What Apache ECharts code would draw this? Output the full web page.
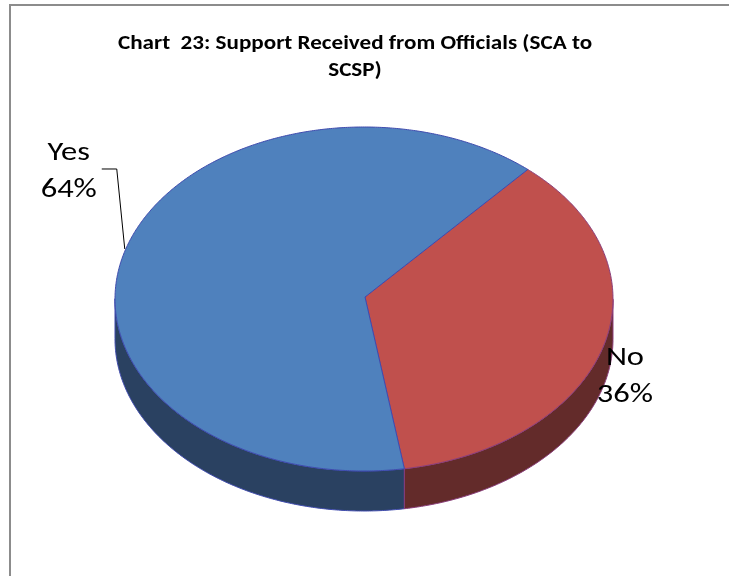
<!DOCTYPE html>
<html>
<head>
<meta charset="utf-8">
<script src="https://cdn.jsdelivr.net/npm/echarts@6/dist/echarts.min.js"></script>
<style>
  html, body { margin: 0; padding: 0; background: #ffffff; }
  #chart { width: 729px; height: 576px; }
</style>
</head>
<body>
<div id="chart"></div>
<script>
// Survey answers and their shares (percent)
const categories = ['Yes', 'No'];
const shares = [64, 36];

const titleText = 'Chart  23: Support Received from Officials (SCA to\nSCSP)';

// Tilted-disc geometry of the 3-D pie
const PIE = {
  apexX: 365, apexY: 297,   // projected centre of the disc
  cx: 364, cy: 299,         // centre of the rim ellipse
  rx: 249, ry: 172,
  depth: 40,
  startAngle: 171           // first slice starts here, clockwise from 12 o'clock
};
const topColors = ['#4F81BD', '#C0504D'];
const sideColors = ['#2A4161', '#632B2A'];
const edgeColors = ['#3F4BAE', '#8A3D7B'];
const labelShift = [[-57, -77], [21, 32]];

const total = shares.reduce((a, b) => a + b, 0);

// Point where the ray from the apex at angle deg meets the rim ellipse
function rimPoint(deg) {
  const t = deg * Math.PI / 180;
  const dx = Math.sin(t), dy = -Math.cos(t);
  const a = (PIE.apexX - PIE.cx) / PIE.rx;
  const b = (PIE.apexY - PIE.cy) / PIE.ry;
  const A = dx * dx + dy * dy;
  const B = 2 * (a * dx + b * dy);
  const C = a * a + b * b - 1;
  const s = (-B + Math.sqrt(B * B - 4 * A * C)) / (2 * A);
  return [PIE.apexX + s * dx * PIE.rx, PIE.apexY + s * dy * PIE.ry];
}

function renderSlice(params, api) {
  const i = params.dataIndex;
  const value = api.value(0);
  let before = 0;
  for (let k = 0; k < i; k++) before += shares[k];
  const a0 = PIE.startAngle + 360 * before / total;
  const a1 = a0 + 360 * value / total;

  const rim = [];
  const steps = Math.max(2, Math.ceil((a1 - a0) / 0.5));
  for (let k = 0; k <= steps; k++) rim.push(rimPoint(a0 + (a1 - a0) * k / steps));

  const children = [];

  // outer wall: the part of the rim on the near half of the disc
  const runs = [];
  let cur = [];
  rim.forEach(p => {
    if (p[1] >= PIE.cy - 0.5) cur.push(p);
    else if (cur.length) { runs.push(cur); cur = []; }
  });
  if (cur.length) runs.push(cur);
  runs.forEach(run => {
    if (run.length < 2) return;
    const pts = run.concat(run.slice().reverse().map(p => [p[0], p[1] + PIE.depth]));
    children.push({
      type: 'polygon',
      z2: 1,
      shape: { points: pts },
      style: { fill: sideColors[i], stroke: edgeColors[i], lineWidth: 1 }
    });
  });

  // top face
  children.push({
    type: 'polygon',
    z2: 10 + (categories.length - i),
    shape: { points: [[PIE.apexX, PIE.apexY]].concat(rim) },
    style: { fill: topColors[i], stroke: edgeColors[i], lineWidth: 1, lineJoin: 'round' }
  });

  // data label
  const mid = rimPoint((a0 + a1) / 2);
  const lx = mid[0] + labelShift[i][0];
  const ly = mid[1] + labelShift[i][1];
  children.push({
    type: 'text',
    z2: 30,
    x: lx, y: ly,
    scaleX: 1.25,
    style: {
      text: api.value(1) + '\n' + Math.round(value / total * 100) + '%',
      x: 0, y: 0,
      align: 'center', verticalAlign: 'middle',
      font: '26px Carlito, Lato, sans-serif',
      lineHeight: 37,
      fill: '#000000'
    }
  });
  if (Math.hypot(labelShift[i][0], labelShift[i][1]) > 60) {
    children.push({
      type: 'polyline',
      z2: 29,
      shape: { points: [[mid[0] - 1, mid[1]], [lx + 48, ly - 3], [lx + 33, ly - 3]] },
      style: { stroke: '#000000', lineWidth: 1, fill: null }
    });
  }
  return { type: 'group', children };
}

const chart = echarts.init(document.getElementById('chart'), null, { renderer: 'canvas' });
chart.setOption({
  animation: false,
  backgroundColor: '#ffffff',
  graphic: [
    {
      type: 'polyline',
      shape: { points: [[10, 576], [10, 5], [729, 5]] },
      style: { stroke: '#8c8c8c', lineWidth: 2, fill: null }
    },
    {
      type: 'text',
      x: 355, y: 57,
      scaleX: 1.1,
      style: {
        text: titleText,
        x: 0, y: 0,
        align: 'center', verticalAlign: 'middle',
        font: 'bold 21px Carlito, Lato, sans-serif',
        lineHeight: 27,
        fill: '#000000'
      }
    }
  ],
  series: [{
    type: 'custom',
    coordinateSystem: 'none',
    renderItem: renderSlice,
    data: shares.map((v, i) => [v, categories[i]]),
    dimensions: [{ name: 'share', type: 'number' }, { name: 'answer', type: 'ordinal' }]
  }]
});
</script>
</body>
</html>
